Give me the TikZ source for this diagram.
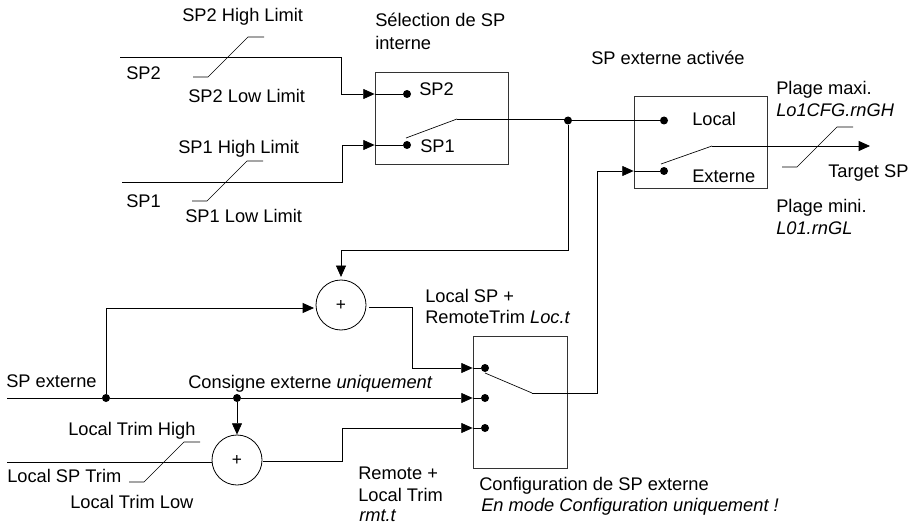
\documentclass[tikz,border=0pt]{standalone}
\usepackage{fontspec}
\setmainfont{Liberation Sans}
\usetikzlibrary{calc, arrows.meta, fit}
\tikzset{
    wire/.style={line width=0.55pt, draw=black},
    flow/.style={wire, -{Triangle[length=8.5pt, width=7.5pt]}},
    limitline/.style={line width=0.5pt, draw=black},
    blockbox/.style={draw=black!80, line width=0.6pt, inner sep=0pt},
    sumnode/.style={circle, draw=black, line width=0.6pt, minimum size=37.5pt, inner sep=0pt, font=\fontsize{13pt}{15pt}\selectfont},
    contact/.style={circle, fill=black, inner sep=0pt, minimum size=6pt},
    label/.style={anchor=base west, inner sep=0pt, font=\fontsize{13.7pt}{16.5pt}\selectfont, align=left}
}
\begin{document}
\begin{tikzpicture}[x=0.75pt,y=-0.75pt]
    \useasboundingbox (0,0) rectangle (917,524);

    % blocks
    \node[blockbox, fit={(375,72) (508,164)}] (selbox) {};
    \node[blockbox, fit={(634,96) (767,188)}] (extbox) {};
    \node[blockbox, fit={(473,336) (567,468)}] (cfgbox) {};
    \node[sumnode] (sumA) at (341,305) {+};
    \node[sumnode] (sumB) at (237,460) {+};

    % contacts
    \node[contact] (selA) at (407,94) {};
    \node[contact] (selB) at (407,145) {};
    \node[contact] (extA) at (664,120.5) {};
    \node[contact] (extB) at (664,171) {};
    \foreach \i/\y in {0/368,1/398,2/428} {
        \node[contact] (cfg\i) at (485,\y) {};
    }
    \node[contact] (joinA) at (568,120.5) {};
    \node[contact] (joinB) at (106,398) {};
    \node[contact] (joinC) at (237,398) {};

    % free ends
    \coordinate (inA) at (120,57.5);
    \coordinate (inB) at (122,182.5);
    \coordinate (inC) at (7,398);
    \coordinate (inD) at (7,462);
    \coordinate (selpole) at (406,138);
    \coordinate (selarm) at (457,119);
    \coordinate (extpole) at (661,164);
    \coordinate (extarm) at (712,146);
    \coordinate (target) at (870,146);
    \coordinate (cfgpole) at (485,373);
    \coordinate (cfgarm) at (532,393);
    \coordinate (sumAin) at (314,308);
    \coordinate (sumAout) at (369,307);
    \coordinate (sumBout) at (263,461);

    % top inputs
    \draw[flow] (inA) -- (341,57.5) -- (341,94) -- (selbox.west |- selA);
    \draw[wire] (selbox.west |- selA) -- (selA);
    \draw[flow] (inB) -- (342,182.5) -- (342,145) -- (selbox.west |- selB);
    \draw[wire] (selbox.west |- selB) -- (selB);

    % switches
    \draw[limitline] (selpole) -- (selarm);
    \draw[wire] (selarm) -- (joinA |- selarm);
    \draw[wire] (joinA) -- (extA);
    \draw[limitline] (extpole) -- (extarm);
    \draw[flow] (extarm) -- (target);
    \draw[limitline] (cfgpole) -- (cfgarm);
    \draw[flow] (cfgarm) -- (597,393) -- (597,171) -- (extbox.west |- extB);
    \draw[wire] (extbox.west |- extB) -- (extB);

    % trim paths
    \draw[flow, shorten >=2pt] (joinA) -- (568,250) -| (sumA.north);
    \draw[flow] (joinB) |- (sumAin);
    \draw[wire] (inC) -- (joinB);
    \draw[wire] (joinB) -- (joinC);
    \draw[flow] (joinC) -- (cfgbox.west |- cfg1);
    \draw[wire] (cfgbox.west |- cfg1) -- (cfg1);
    \draw[flow] (joinC) -- (sumB.north);
    \draw[wire] (inD) -- (sumB.west |- inD);
    \draw[flow] (sumAout) -- (412,307) -- (412,368) -- (cfgbox.west |- cfg0);
    \draw[wire] (cfgbox.west |- cfg0) -- (cfg0);
    \draw[flow] (sumBout) -- (342,461) -- (342,428) -- (cfgbox.west |- cfg2);
    \draw[wire] (cfgbox.west |- cfg2) -- (cfg2);

    % limit marks
    \foreach \x/\y in {193/77,192/201,129/482,782/167} {
        \draw[limitline] (\x,\y) -- ++(15,0) -- ++(40,-40) -- ++(16,0);
    }

    % texts
    \node[label] (hiA) at (182,22) {SP2 High Limit};
    \node[label] (nameA) at (126,80) {SP2};
    \node[label] (loA) at (188,103) {SP2 Low Limit};
    \node[label] (hiB) at (178,154) {SP1 High Limit};
    \node[label] (nameB) at (126,208) {SP1};
    \node[label] (loB) at (185,222) {SP1 Low Limit};
    \node[label] (seltitle) at (375,27) {Sélection de SP};
    \node[label] (seltitleb) at (375,50) {interne};
    \node[label] (selAtext) at (419,96) {SP2};
    \node[label] (selBtext) at (420,153) {SP1};
    \node[label] (exttitle) at (591,65) {SP externe activée};
    \node[label] (extAtext) at (692,126) {Local};
    \node[label] (extBtext) at (692,183) {Externe};
    \node[label] (maxi) at (776,95) {Plage maxi.};
    \node[label] (maxib) at (776,117) {\itshape Lo1CFG.rnGH};
    \node[label] (targettext) at (828,177) {Target SP};
    \node[label] (mini) at (776,213) {Plage mini.};
    \node[label] (minib) at (776,234) {\itshape L01.rnGL};
    \node[label] (loct) at (425,302) {Local SP +};
    \node[label] (loctb) at (425,323) {RemoteTrim \textit{Loc.t}};
    \node[label] (exttext) at (6,387) {SP externe};
    \node[label] (consigne) at (188,388) {Consigne externe \textit{uniquement}};
    \node[label] (trimhi) at (68,435) {Local Trim High};
    \node[label] (trimtext) at (7,482) {Local SP Trim};
    \node[label] (trimlo) at (70,508) {Local Trim Low};
    \node[label] (rmt) at (358,479) {Remote +};
    \node[label] (rmtb) at (358,501) {Local Trim};
    \node[label] (rmtc) at (359,521.5) {\itshape rmt.t};
    \node[label] (cfgtitle) at (479,490) {Configuration de SP externe};
    \node[label] (cfgtitleb) at (481,511) {\itshape En mode Configuration uniquement !};
\end{tikzpicture}
\end{document}
